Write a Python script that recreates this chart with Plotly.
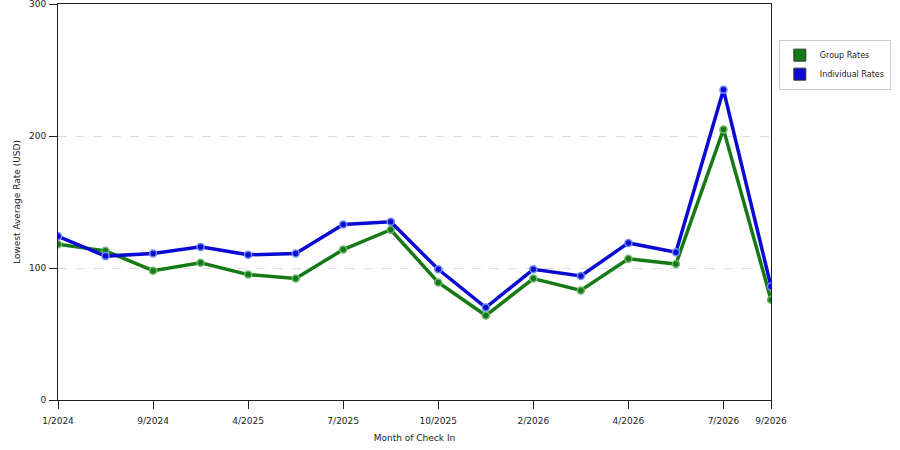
import plotly.graph_objects as go

# meses de check-in (so alguns aparecem como rotulo no eixo)
meses = ['1/2024', '5/2024', '9/2024', '12/2024', '4/2025', '5/2025', '7/2025', '8/2025',
         '10/2025', '12/2025', '2/2026', '3/2026', '4/2026', '5/2026', '7/2026', '9/2026']
rotulos = ['1/2024', '9/2024', '4/2025', '7/2025', '10/2025', '2/2026', '4/2026', '7/2026', '9/2026']

# tarifas
grupo = [118, 113, 98, 104, 95, 92, 114, 129, 89, 64, 92, 83, 107, 103, 205, 76]
individual = [124, 109, 111, 116, 110, 111, 133, 135, 99, 70, 99, 94, 119, 112, 235, 86]

verde = '#157a15'
azul = '#0a0ad2'

fig = go.Figure()

for nome, valores, cor, halo in [('Group Rates', grupo, verde, '#6fb86f'),
                                 ('Individual Rates', individual, azul, '#6f8cf0')]:
    fig.add_trace(go.Scatter(
        x=meses, y=valores, mode='lines+markers', name=nome,
        line=dict(color=cor, width=3.5),
        marker=dict(color=cor, size=7, line=dict(color=halo, width=1.5)),
        showlegend=False
    ))
    # entrada da legenda com quadrado
    fig.add_trace(go.Scatter(
        x=[None], y=[None], mode='markers', name=nome,
        marker=dict(symbol='square', color=cor, size=12, line=dict(color='#333333', width=1))
    ))

fig.update_layout(
    width=900, height=450,
    margin=dict(l=58, r=129, t=4, b=50, autoexpand=False),
    paper_bgcolor='white', plot_bgcolor='white',
    font=dict(family='DejaVu Sans', size=9, color='#222222'),
    legend=dict(x=1.011, y=0.91, xanchor='left', yanchor='top',
                bordercolor='#cccccc', borderwidth=1, font=dict(size=8),
                itemwidth=30, tracegroupgap=2),
    xaxis=dict(
        type='category', categoryorder='array', categoryarray=meses,
        range=[0, len(meses) - 1],
        tickmode='array', tickvals=rotulos, ticktext=rotulos,
        ticks='outside', ticklen=8, tickcolor='#222222', ticklabelstandoff=4,
        showline=True, linecolor='#222222', linewidth=1, mirror=True,
        showgrid=False, zeroline=False, automargin=False,
        title=dict(text='Month of Check In', font=dict(size=9), standoff=9)
    ),
    yaxis=dict(
        range=[0, 300], tickvals=[0, 100, 200, 300],
        ticks='outside', ticklen=8, tickcolor='#222222', ticklabelstandoff=1,
        showline=True, linecolor='#222222', linewidth=1, mirror=True,
        showgrid=True, gridcolor='#dddddd', griddash='dash', gridwidth=1,
        zeroline=False, automargin=False, ticklabeloverflow='allow',
        title=dict(text='Lowest Average Rate (USD)', font=dict(size=9), standoff=6)
    )
)

# tirar a margem padrao do body para o grafico ficar no canto da janela
fig.write_html('out.html', config={'displayModeBar': False},
               post_script='document.body.style.margin = "0px";')
